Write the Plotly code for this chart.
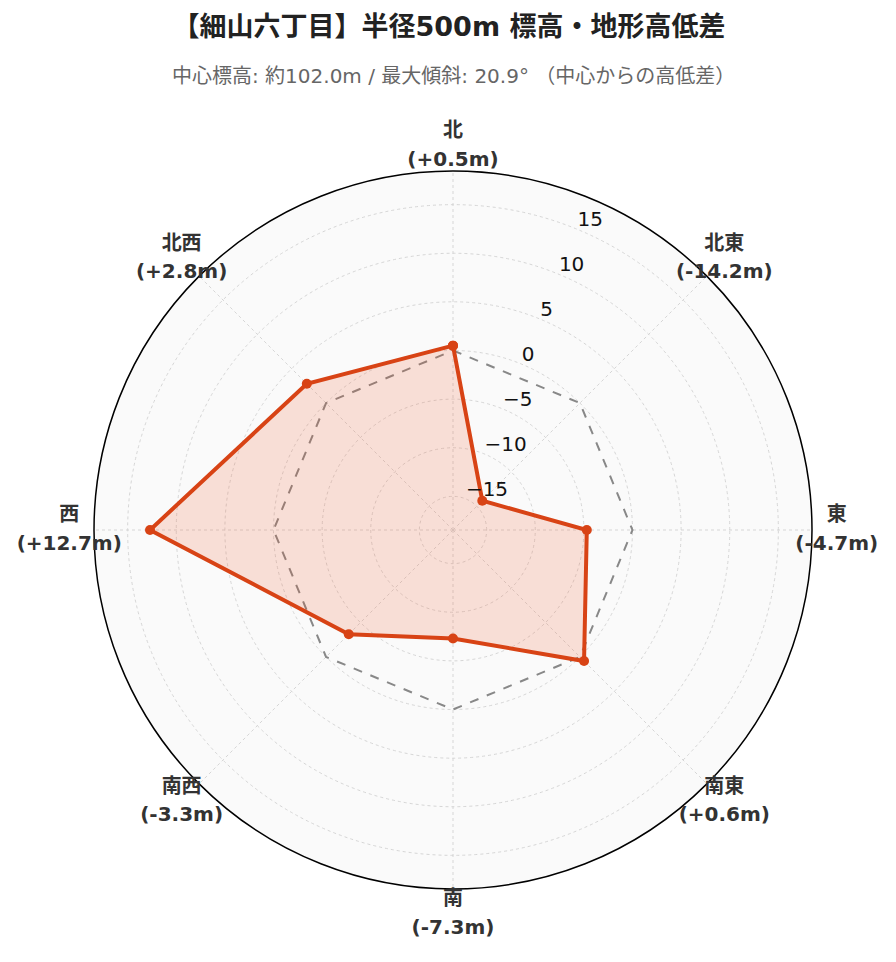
import plotly.graph_objects as go

directions = ["北", "北東", "東", "南東", "南", "南西", "西", "北西"]
angles = [0, 45, 90, 135, 180, 225, 270, 315]
diffs = [0.5, -14.2, -4.7, 0.6, -7.3, -3.3, 12.7, 2.8]
zero_ref = [0, 0, 0, 0, 0, 0, 0, 0]
radial_ticks = [-15, -10, -5, 0, 5, 10, 15]
radial_tick_text = ["−15", "−10", "−5", "0", "5", "10", "15"]

labels = [f"<span style='font-size:20px'><b>{d}<br>({v:+.1f}m)</b></span>"
          for d, v in zip(directions, diffs)]
tick_labels = [f"<span style='font-size:20px'>{t}</span>" for t in radial_tick_text]

lim = max(abs(v) for v in diffs) * 1.3
tick_theta = 22.5

# figure geometry (pixels)
W, H = 896, 962
cx, cy = 445, 522          # polar centre in figure coords
half_area = 400            # half size of plotting area
inner_half = 359           # half size of main polar domain
r_inner_px, r_outer_px = inner_half - 6, half_area - 6
label_px = 378

ml, mr = cx - half_area, W - cx - half_area
mt, mb = cy - half_area, H - cy - half_area
d0 = (half_area - inner_half) / (2 * half_area)
d1 = 1 - d0

outer_range = (r_outer_px / r_inner_px) * 2 * lim
label_r = (label_px / r_inner_px) * 2 * lim

fig = go.Figure()
fig.add_trace(go.Scatterpolar(
    r=zero_ref + [zero_ref[0]], theta=angles + [angles[0]], mode="lines",
    line=dict(color="#888888", width=2, dash="dash"),
    hoverinfo="skip", showlegend=False, subplot="polar"))
fig.add_trace(go.Scatterpolar(
    r=diffs + [diffs[0]], theta=angles + [angles[0]], mode="lines+markers",
    line=dict(color="#D84315", width=4),
    marker=dict(color="#D84315", size=10),
    fill="toself", fillcolor="rgba(244,81,30,0.16)",
    showlegend=False, subplot="polar"))
fig.add_trace(go.Scatterpolar(
    r=radial_ticks, theta=[tick_theta] * len(radial_ticks), mode="text",
    text=tick_labels, textposition="top right", cliponaxis=False,
    textfont=dict(size=12, color="#111111"),
    hoverinfo="skip", showlegend=False, subplot="polar"))
fig.add_trace(go.Scatterpolar(
    r=[label_r] * len(angles), theta=angles, mode="text", text=labels,
    textposition="middle center", cliponaxis=False,
    textfont=dict(size=22, color="#333333"),
    hoverinfo="skip", showlegend=False, subplot="polar2"))

font_family = "DejaVu Sans, Noto Sans CJK JP, sans-serif"
fig.update_layout(
    width=W, height=H,
    paper_bgcolor="white",
    font=dict(family=font_family),
    margin=dict(l=ml, r=mr, t=mt, b=mb),
    title=dict(text="<b>【細山六丁目】半径500m 標高・地形高低差</b>",
               x=0.5 - 7 / W, xanchor="center", y=1 - 19 / H, yanchor="middle",
               font=dict(size=27, color="#222222", family=font_family)),
    annotations=[dict(text="中心標高: 約102.0m / 最大傾斜: 20.9° （中心からの高低差）",
                      xref="paper", yref="paper", x=0.5,
                      y=(H - mb - 68) / (2 * half_area),
                      xanchor="center", yanchor="middle", showarrow=False,
                      font=dict(size=20, color="#666666", family=font_family))],
    polar=dict(
        domain=dict(x=[d0, d1], y=[d0, d1]),
        bgcolor="#fafafa",
        angularaxis=dict(direction="clockwise", rotation=90, thetaunit="degrees",
                         tickmode="array", tickvals=angles, showticklabels=False,
                         showline=True, linecolor="black", linewidth=1.5,
                         gridcolor="#d6d6d6", griddash="dot", ticks=""),
        radialaxis=dict(range=[-lim, lim], showline=False, showticklabels=False,
                        tickvals=radial_ticks, ticks="",
                        gridcolor="#d6d6d6", griddash="dot"),
    ),
    polar2=dict(
        domain=dict(x=[0, 1], y=[0, 1]),
        bgcolor="rgba(0,0,0,0)",
        angularaxis=dict(direction="clockwise", rotation=90, thetaunit="degrees",
                         visible=False),
        radialaxis=dict(range=[0, outer_range], visible=False),
    ),
)

fig.write_html("out.html")
